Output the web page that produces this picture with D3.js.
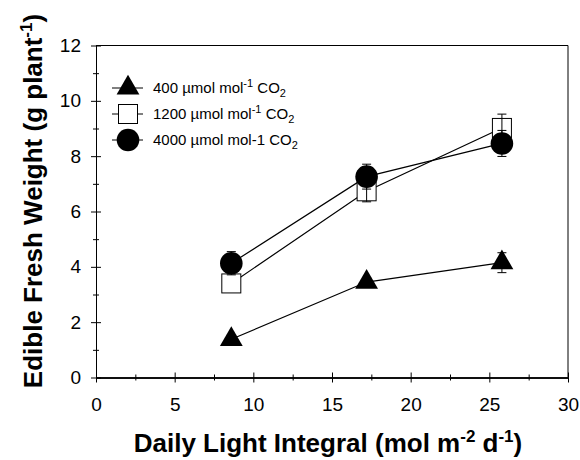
<!DOCTYPE html>
<html><head><meta charset="utf-8">
<script src="https://cdn.jsdelivr.net/npm/d3@7"></script>
<style>body{margin:0;background:#fff}svg{display:block}text{font-family:"Liberation Sans",Arial,sans-serif}</style>
</head><body><svg id="c" width="580" height="460"></svg>
<script>
const dli = [8.6, 17.2, 25.8];
const co2_400 = [1.38, 3.45, 4.15];
const err_400 = [0.1, 0.15, 0.36];
const co2_1200 = [3.40, 6.73, 9.02];
const err_1200 = [0, 0.38, 0.5];
const co2_4000 = [4.13, 7.26, 8.46];
const err_4000 = [0.42, 0.45, 0.47];
const xTicks = [0, 5, 10, 15, 20, 25, 30];
const yTicks = [0, 2, 4, 6, 8, 10, 12];
const xMinor = [2.5, 7.5, 12.5, 17.5, 22.5, 27.5];
const yMinor = [1, 3, 5, 7, 9, 11];

const svg = d3.select("#c");
const x = d3.scaleLinear().domain([0, 30]).range([96, 568]);
const y = d3.scaleLinear().domain([0, 12]).range([377.5, 45.5]);

svg.append("line").attr("x1", x(0)).attr("x2", x(30)).attr("y1", y(12)).attr("y2", y(12)).attr("stroke", "#000");
svg.append("line").attr("x1", x(30)).attr("x2", x(30)).attr("y1", y(0)).attr("y2", y(12)).attr("stroke", "#000");

function axisGroup(axis, tx, ty, labels) {
  const g = svg.append("g").attr("transform", `translate(${tx},${ty})`).call(axis);
  g.selectAll("line").attr("stroke", "#000");
  g.select(".domain").attr("stroke", "#000");
  if (!labels) g.selectAll("text").remove();
  else g.selectAll("text").style("font-family", "Liberation Sans, Arial, sans-serif").style("font-size", "19px").attr("fill", "#000");
  return g;
}
axisGroup(d3.axisBottom(x).tickValues(xTicks).tickSize(5).tickSizeOuter(0).tickPadding(15).tickFormat(d3.format("d")), 0, y(0), true);
axisGroup(d3.axisBottom(x).tickValues(xTicks).tickSize(-5).tickSizeOuter(0), 0, y(0), false);
axisGroup(d3.axisBottom(x).tickValues(xMinor).tickSize(3).tickSizeOuter(0), 0, y(0), false);
axisGroup(d3.axisBottom(x).tickValues(xMinor).tickSize(-3).tickSizeOuter(0), 0, y(0), false);
axisGroup(d3.axisLeft(y).tickValues(yTicks).tickSize(5).tickSizeOuter(0).tickPadding(10).tickFormat(d3.format("d")), x(0), 0, true);
axisGroup(d3.axisLeft(y).tickValues(yTicks).tickSize(-5).tickSizeOuter(0), x(0), 0, false);
axisGroup(d3.axisLeft(y).tickValues(yMinor).tickSize(3).tickSizeOuter(0), x(0), 0, false);
axisGroup(d3.axisLeft(y).tickValues(yMinor).tickSize(-3).tickSizeOuter(0), x(0), 0, false);

const series = [
  {vals: co2_400, err: err_400, shape: "tri"},
  {vals: co2_1200, err: err_1200, shape: "sq"},
  {vals: co2_4000, err: err_4000, shape: "circ"}
];
const line = d3.line().x(d => x(d[0])).y(d => y(d[1]));

function drawMarker(g, shape, cx, cy) {
  if (shape === "tri") {
    g.append("path").attr("d", d3.symbol(d3.symbolTriangle, 225)()).attr("transform", `translate(${cx},${cy})`).attr("fill", "#000");
  } else if (shape === "sq") {
    g.append("rect").attr("x", cx - 9.5).attr("y", cy - 9.5).attr("width", 19).attr("height", 19).attr("fill", "#fff").attr("stroke", "#000").attr("stroke-width", 1);
  } else {
    g.append("circle").attr("cx", cx).attr("cy", cy).attr("r", 11.3).attr("fill", "#000");
  }
}

series.forEach(s => {
  svg.append("path").datum(dli.map((d, i) => [d, s.vals[i]])).attr("d", line).attr("fill", "none").attr("stroke", "#000").attr("stroke-width", 1.2);
});
const mg = svg.append("g");
series.forEach(s => dli.forEach((d, i) => drawMarker(mg, s.shape, x(d), y(s.vals[i]))));
const eg = svg.append("g").attr("stroke", "#000").attr("stroke-width", 1);
series.forEach(s => dli.forEach((d, i) => {
  if (!(s.err[i] > 0)) return;
  const cx = x(d), t = y(s.vals[i] + s.err[i]), b = y(s.vals[i] - s.err[i]);
  eg.append("line").attr("x1", cx).attr("x2", cx).attr("y1", t).attr("y2", b);
  eg.append("line").attr("x1", cx - 4.5).attr("x2", cx + 4.5).attr("y1", t).attr("y2", t);
  eg.append("line").attr("x1", cx - 4.5).attr("x2", cx + 4.5).attr("y1", b).attr("y2", b);
}));

const legend = [
  {shape: "tri", parts: [["400 µmol mol", 0], ["-1", 1], [" CO", 0], ["2", -1]]},
  {shape: "sq", parts: [["1200 µmol mol", 0], ["-1", 1], [" CO", 0], ["2", -1]]},
  {shape: "circ", parts: [["4000 µmol mol-1 CO", 0], ["2", -1]]}
];
legend.forEach((l, i) => {
  const ly = 88 + i * 26;
  svg.append("line").attr("x1", 112).attr("x2", 143).attr("y1", ly).attr("y2", ly).attr("stroke", "#000");
  drawMarker(svg, l.shape, 128, ly);
  const t = svg.append("text").attr("x", 153).attr("y", ly + 5).style("font-size", "15px").attr("fill", "#000");
  let cur = 0;
  l.parts.forEach(p => {
    const target = p[1] === 1 ? -6 : p[1] === -1 ? 4 : 0;
    t.append("tspan").attr("dy", target - cur).style("font-size", p[1] ? "11px" : "15px").text(p[0]);
    cur = target;
  });
});

const xt = svg.append("text").attr("x", 328).attr("y", 452).attr("text-anchor", "middle").style("font-size", "26px").style("font-weight", "bold").attr("fill", "#000");
xt.append("tspan").text("Daily Light Integral (mol m");
xt.append("tspan").attr("dy", -10).style("font-size", "17px").text("-2");
xt.append("tspan").attr("dy", 10).text(" d");
xt.append("tspan").attr("dy", -10).style("font-size", "17px").text("-1");
xt.append("tspan").attr("dy", 10).text(")");

const yt = svg.append("text").attr("transform", "translate(42,201) rotate(-90)").attr("text-anchor", "middle").style("font-size", "26px").style("font-weight", "bold").attr("fill", "#000");
yt.append("tspan").text("Edible Fresh Weight (g plant");
yt.append("tspan").attr("dy", -10).style("font-size", "17px").text("-1");
yt.append("tspan").attr("dy", 10).text(")");
</script></body></html>
